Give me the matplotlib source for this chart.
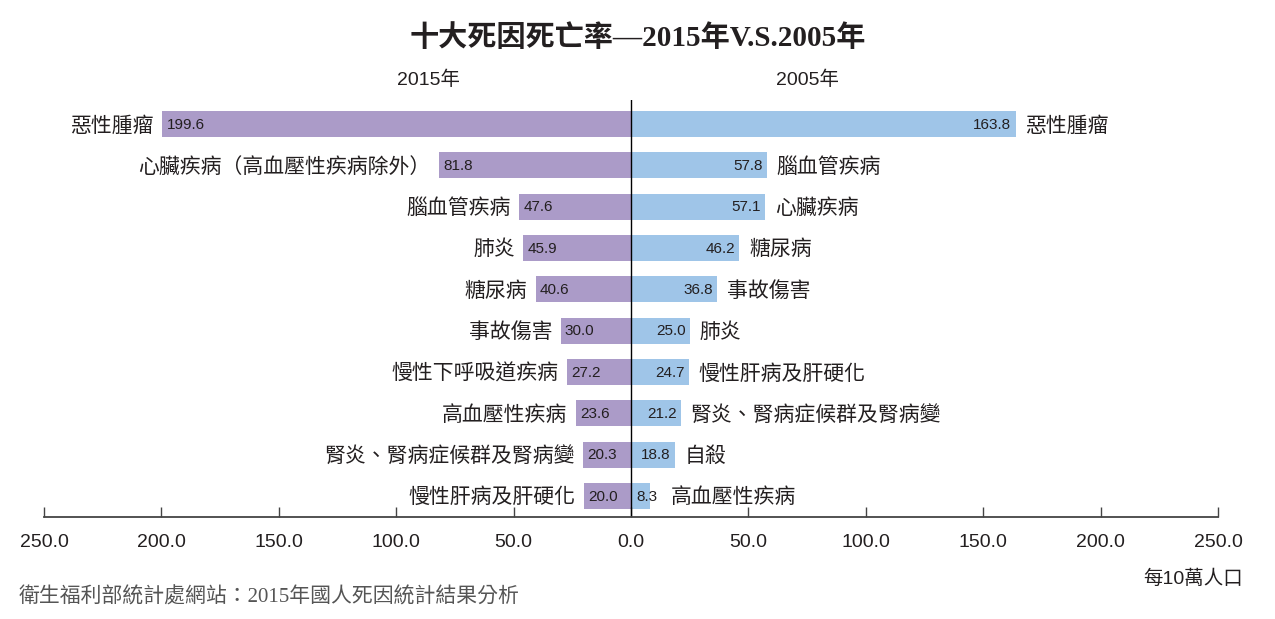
"""十大死因死亡率 2015 vs 2005 : barres horizontales dos a dos."""

import matplotlib
matplotlib.use("Agg")
import matplotlib.pyplot as plt

causes_2015 = ["惡性腫瘤", "心臟疾病（高血壓性疾病除外）", "腦血管疾病", "肺炎", "糖尿病",
               "事故傷害", "慢性下呼吸道疾病", "高血壓性疾病", "腎炎、腎病症候群及腎病變",
               "慢性肝病及肝硬化"]
rates_2015 = [199.6, 81.8, 47.6, 45.9, 40.6, 30.0, 27.2, 23.6, 20.3, 20.0]

causes_2005 = ["惡性腫瘤", "腦血管疾病", "心臟疾病", "糖尿病", "事故傷害", "肺炎",
               "慢性肝病及肝硬化", "腎炎、腎病症候群及腎病變", "自殺", "高血壓性疾病"]
rates_2005 = [163.8, 57.8, 57.1, 46.2, 36.8, 25.0, 24.7, 21.2, 18.8, 8.3]

ticks = [-250, -200, -150, -100, -50, 0, 50, 100, 150, 200, 250]
tick_labels = [f"{abs(t):.1f}" for t in ticks]

PURPLE = "#ab9bc8"
BLUE = "#9fc5e8"
INK = "#231f20"
SANS = ["Liberation Sans", "Noto Sans CJK TC"]
SERIF = ["Liberation Serif", "Noto Sans CJK TC"]

W, H = 1275, 619
fig = plt.figure(figsize=(W / 100, H / 100), dpi=100)
ax = fig.add_axes([44 / W, 1 - 517 / H, (1218 - 44) / W, (517 - 100) / H])

rows = list(range(len(rates_2015)))
ax.barh(rows, [-v for v in rates_2015], height=0.63, color=PURPLE)
ax.barh(rows, rates_2005, height=0.63, color=BLUE)

for y, (name, v) in enumerate(zip(causes_2015, rates_2015)):
    ax.annotate(f"{v:.1f}", (-v, y), xytext=(3, -0.5), textcoords="offset points",
                ha="left", va="center", fontsize=11, family=SANS, color=INK)
    ax.annotate(name, (-v, y), xytext=(-6, -1.2), textcoords="offset points",
                ha="right", va="center", fontsize=15, family=SANS, color=INK)

for y, (name, v) in enumerate(zip(causes_2005, rates_2005)):
    if v >= 12:
        ax.annotate(f"{v:.1f}", (v, y), xytext=(-3, -0.5), textcoords="offset points",
                    ha="right", va="center", fontsize=11, family=SANS, color=INK)
    else:
        # barre trop courte: chiffre pose depuis l'axe central
        ax.annotate(f"{v:.1f}", (0, y), xytext=(4, -0.5), textcoords="offset points",
                    ha="left", va="center", fontsize=11, family=SANS, color=INK)
    ax.annotate(name, (max(v, 13), y), xytext=(7, -1.2), textcoords="offset points",
                ha="left", va="center", fontsize=15, family=SANS, color=INK)

ax.axvline(0, color="black", lw=1)
ax.set_xlim(-250, 250)
ax.set_ylim(9.51, -0.58)
ax.set_yticks([])
ax.set_xticks(ticks)
ax.set_xticklabels(tick_labels, family=SANS, fontsize=14, color=INK)
ax.tick_params(axis="x", direction="in", length=7, width=1, color="#444", pad=12)
for side in ("top", "left", "right"):
    ax.spines[side].set_visible(False)
ax.spines["bottom"].set_color("#444")
ax.spines["bottom"].set_linewidth(1.3)

fig.text(0.5, 1 - 38 / H, "十大死因死亡率—2015年V.S.2005年", ha="center", va="center",
         fontsize=21, fontweight="bold", family=SERIF, color=INK)
fig.text(428 / W, 1 - 80 / H, "2015年", ha="center", va="center", fontsize=14,
         family=SANS, color=INK)
fig.text(808 / W, 1 - 80 / H, "2005年", ha="center", va="center", fontsize=14,
         family=SANS, color=INK)
fig.text(1243 / W, 1 - 579 / H, "每10萬人口", ha="right", va="center", fontsize=14,
         family=SANS, color=INK)
fig.text(19 / W, 1 - 597 / H, "衛生福利部統計處網站：2015年國人死因統計結果分析",
         ha="left", va="center", fontsize=15, family=SERIF, color="#555555")

fig.savefig("out.png", dpi=100, facecolor="white")
